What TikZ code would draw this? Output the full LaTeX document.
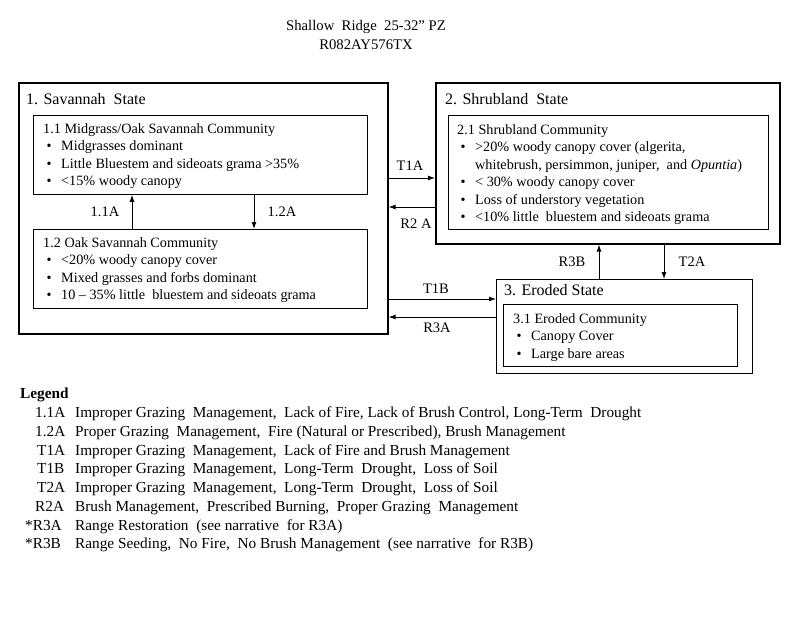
\documentclass[tikz,border=0pt]{standalone}
\usepackage{fontspec}
\setmainfont{Liberation Serif}
\usetikzlibrary{positioning,arrows.meta}

% bullet item and legend row
\newcommand{\bul}{\hspace*{3.5pt}\makebox[14.5pt][l]{\textbullet}}
\newcommand{\lgd}[3]{\makebox[55pt][l]{\hspace*{#1}#2}#3}

\begin{document}
\begin{tikzpicture}[x=1pt, y=-1pt, >={Latex[length=7pt,width=5pt]},
    every node/.style={font=\fontsize{14.2}{17.5}\selectfont},
    statebox/.style={draw, line width=1.6pt, anchor=north west, inner sep=0pt},
    commbox/.style={draw, line width=0.8pt, anchor=north west, inner sep=0pt},
    txt/.style={anchor=north west, align=left, inner sep=0pt},
    ttl/.style={anchor=west, inner sep=0pt, font=\fontsize{16}{19}\selectfont},
    lbl/.style={inner sep=0pt, font=\fontsize{14.5}{17}\selectfont}]

        \useasboundingbox (0,0) rectangle (800,616);

        % heading
        \node[align=center, anchor=north, inner sep=0pt,
              font=\fontsize{14.7}{19}\selectfont] (head) at (366,20)
        {Shallow~ Ridge~ 25-32'' PZ\\R082AY576TX};

        % states
        \node[statebox, minimum width=369, minimum height=251] (sav) at (18,82) {};
        \node[statebox, minimum width=344, minimum height=161] (shr) at (435,82) {};
        \node[statebox, line width=1pt, minimum width=256, minimum height=94] (ero) at (496,279) {};

        \node[ttl] (savt) at (26,99) {1. Savannah~ State};
        \node[ttl] (shrt) at (445,99) {2. Shrubland~ State};
        \node[ttl] (erot) at (504,290) {3. Eroded State};

        % communities
        \node[commbox, minimum width=334, minimum height=79] (c11) at (33,115) {};
        \node[commbox, minimum width=334, minimum height=79] (c12) at (33,229) {};
        \node[commbox, minimum width=320, minimum height=114] (c21) at (448,115) {};
        \node[commbox, minimum width=234, minimum height=62] (c31) at (503,304) {};

        \node[txt] (c11t) at (43,123)
        {1.1 Midgrass/Oak Savannah Community\\
         \bul Midgrasses dominant\\
         \bul Little Bluestem and sideoats grama >35\%\\
         \bul <15\% woody canopy};
        \node[txt] (c12t) at (43,237)
        {1.2 Oak Savannah Community\\
         \bul <20\% woody canopy cover\\
         \bul Mixed grasses and forbs dominant\\
         \bul 10 -- 35\% little~ bluestem and sideoats grama};
        \node[txt] (c21t) at (457,124)
        {2.1 Shrubland Community\\
         \bul >20\% woody canopy cover (algerita,\\
         \hspace*{18pt}whitebrush, persimmon, juniper, ~and \textit{Opuntia})\\
         \bul < 30\% woody canopy cover\\
         \bul Loss of understory vegetation\\
         \bul <10\% little~ bluestem and sideoats grama};
        \node[txt] (c31t) at (513,313)
        {3.1 Eroded Community\\
         \bul Canopy Cover\\
         \bul Large bare areas};

        % transitions
        \begin{scope}[line width=0.9pt]
            \draw[->] (c12.north -| 132,0) -- (c11.south -| 132,0);
            \draw[->] (c11.south -| 254,0) -- (c12.north -| 254,0);
            \draw[->] (sav.east |- 0,178) -- (shr.west |- 0,178);
            \draw[->] (shr.west |- 0,207) -- (sav.east |- 0,207);
            \draw[->] (sav.east |- 0,299) -- (ero.west |- 0,299);
            \draw[->] (ero.west |- 0,317) -- (sav.east |- 0,317);
            \draw[->] (ero.north -| 599,0) -- (shr.south -| 599,0);
            \draw[->] (shr.south -| 664,0) -- (ero.north -| 664,0);
        \end{scope}

        \node[lbl] (l11a) at (105,212) {1.1A};
        \node[lbl] (l12a) at (282,212) {1.2A};
        \node[lbl] (lt1a) at (410,166) {T1A};
        \node[lbl] (lr2a) at (416,224) {R2 A};
        \node[lbl] (lt1b) at (436,289) {T1B};
        \node[lbl] (lr3a) at (437,328) {R3A};
        \node[lbl] (lr3b) at (572,262) {R3B};
        \node[lbl] (lt2a) at (692,262) {T2A};

        % legend
        \node[txt, font=\fontsize{15.3}{18.75}\selectfont] (leg) at (20,388)
        {\textbf{Legend}\\
         \lgd{15pt}{1.1A}{Improper Grazing~ Management,~ Lack of Fire, Lack of Brush Control, Long-Term~ Drought}\\
         \lgd{15pt}{1.2A}{Proper Grazing~ Management,~ Fire (Natural or Prescribed), Brush Management}\\
         \lgd{17pt}{T1A}{Improper Grazing~ Management,~ Lack of Fire and Brush Management}\\
         \lgd{17pt}{T1B}{Improper Grazing~ Management,~ Long-Term~ Drought,~ Loss of Soil}\\
         \lgd{17pt}{T2A}{Improper Grazing~ Management,~ Long-Term~ Drought,~ Loss of Soil}\\
         \lgd{15pt}{R2A}{Brush Management,~ Prescribed Burning,~ Proper Grazing~ Management}\\
         \lgd{5pt}{*R3A}{Range Restoration~ (see narrative~ for R3A)}\\
         \lgd{5pt}{*R3B}{Range Seeding,~ No Fire,~ No Brush Management~ (see narrative~ for R3B)}};

\end{tikzpicture}
\end{document}
